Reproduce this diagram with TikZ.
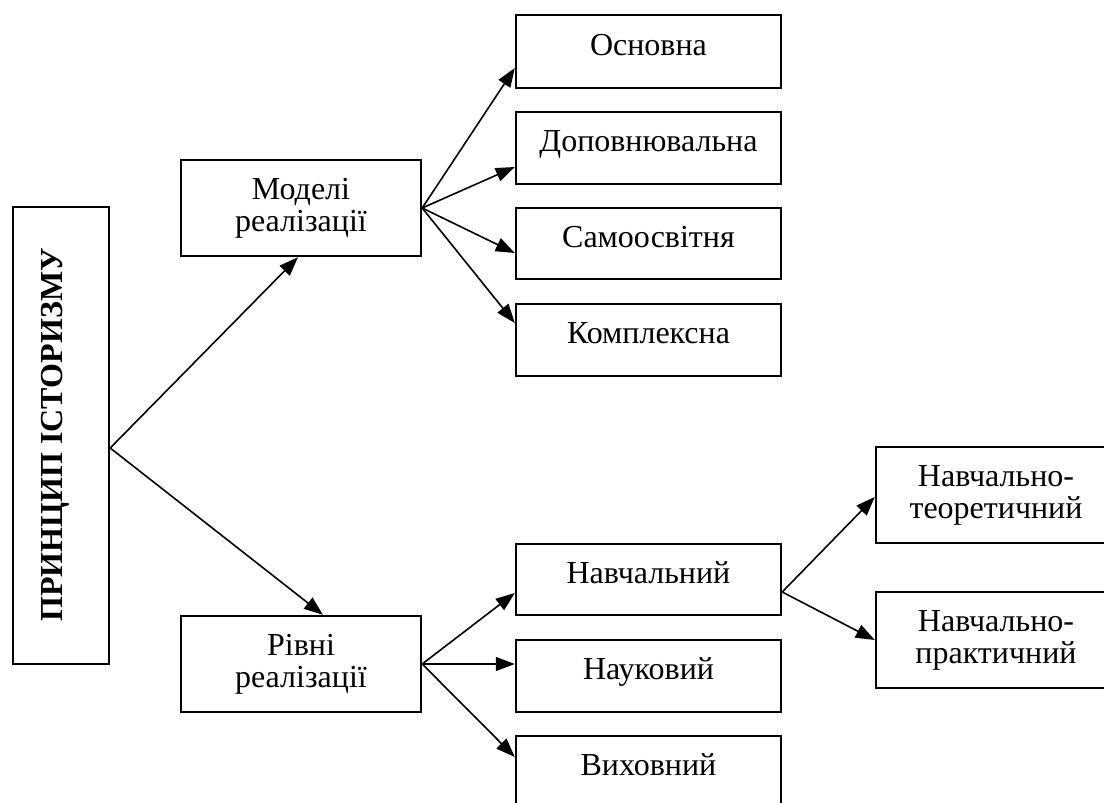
\documentclass[tikz,border=0pt]{standalone}
\usepackage{fontspec}
\setmainfont{Liberation Serif}
\usetikzlibrary{arrows.meta,calc}
\begin{document}
\begin{tikzpicture}[x=0.5pt,y=-0.5pt,
  box/.style={draw,line width=1.2pt,rectangle,inner sep=0pt,align=center,
    font=\fontsize{16}{16}\selectfont,minimum width=132.5pt,minimum height=36pt},
  onebox/.style={box,text height=11pt,text depth=7.5pt},
  mainlabel/.style={font=\bfseries\fontsize{16}{16}\selectfont,rotate=90,inner sep=0pt,anchor=base},
  conn/.style={line width=0.8pt,-{Triangle[length=9.5pt,width=7pt]}}]
\useasboundingbox (0,0) rectangle (1104,803);
\clip (0,0) rectangle (1104,803);
% main box
\node[box,minimum width=48pt,minimum height=228.5pt] (main) at (61,435.5) {};
\node[mainlabel] (maintext) at (62.5,435) {ПРИНЦИП ІСТОРИЗМУ};
% second level
\node[box,minimum width=120pt,minimum height=48pt] (mod) at (301,208) {Моделі\\реалізації};
\node[box,minimum width=120pt,minimum height=48pt] (riv) at (301,664) {Рівні\\реалізації};
% third level (models)
\node[onebox,minimum height=36.5pt] (osn) at (648.5,51.5) {Основна};
\node[onebox,minimum height=36pt] (dop) at (648.5,148) {Доповнювальна};
\node[onebox,minimum height=35.5pt] (sam) at (648.5,243.5) {Самоосвітня};
\node[onebox,minimum height=36pt] (kom) at (648.5,340) {Комплексна};
% third level (levels)
\node[onebox,minimum height=35.5pt] (nav) at (648.5,579.5) {Навчальний};
\node[onebox,minimum height=36pt] (nau) at (648.5,676) {Науковий};
\node[onebox,minimum height=36pt] (vyh) at (648.5,772) {Виховний};
% fourth level
\node[box,minimum width=120pt,minimum height=48pt] (teo) at (996,495) {Навчально-\\теоретичний};
\node[box,minimum width=120pt,minimum height=48pt] (pra) at (996,640) {Навчально-\\практичний};
% connectors
\coordinate (mo) at ($(main.east)+(0,12.5)$);
\draw[conn] (mo) -- ($(mod.south)+(-3,0)$);
\draw[conn] (mo) -- ($(riv.north)+(22,0)$);
\draw[conn] (mod.east) -- ($(osn.west)+(0,16.5)$);
\draw[conn] (mod.east) -- ($(dop.west)+(0,19)$);
\draw[conn] (mod.east) -- ($(sam.west)+(0,9.5)$);
\draw[conn] (mod.east) -- ($(kom.west)+(0,-17)$);
\draw[conn] (riv.east) -- ($(nav.west)+(0,13.5)$);
\draw[conn] (riv.east) -- ($(nau.west)+(0,-12)$);
\draw[conn] (riv.east) -- ($(vyh.west)+(0,-15)$);
\coordinate (no) at ($(nav.east)+(0,12.5)$);
\draw[conn] (no) -- ($(teo.west)+(0,2)$);
\draw[conn] (no) -- (pra.west);
\end{tikzpicture}
\end{document}
